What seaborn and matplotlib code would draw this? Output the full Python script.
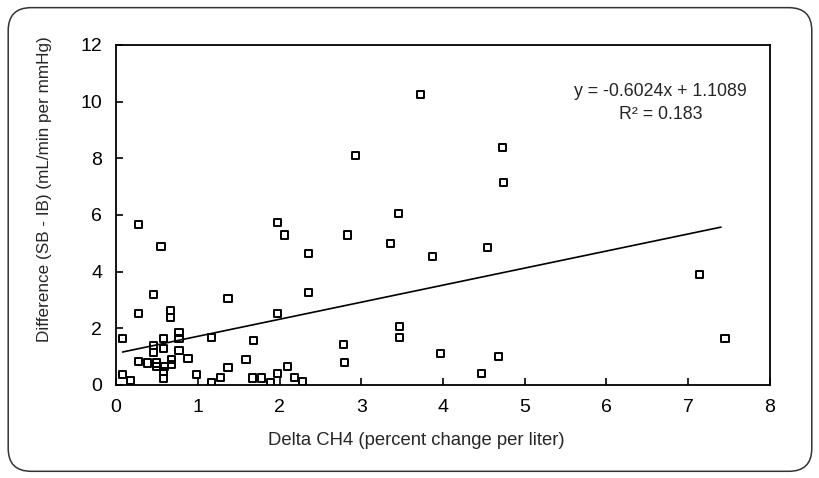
import matplotlib
matplotlib.use("Agg")
import matplotlib.pyplot as plt
from matplotlib.patches import FancyBboxPatch
import pandas as pd
import seaborn as sns

# values
delta_ch4 = [
    0.27, 0.55, 0.46, 0.27, 0.67, 0.67, 0.08, 0.46, 0.46, 0.58,
    0.58, 0.77, 0.77, 0.77, 0.88, 0.27, 0.38, 0.49, 0.49, 0.59,
    0.68, 0.68, 0.58, 0.58, 0.08, 0.18, 1.17, 0.99, 1.17, 1.28,
    1.37, 1.37, 1.68, 1.59, 1.67, 1.78, 1.89, 1.98, 1.97, 1.97,
    2.06, 2.83, 2.35, 3.36, 3.46, 3.87, 2.35, 2.78, 2.79, 3.47,
    3.47, 3.97, 2.10, 2.18, 2.28, 4.73, 4.74, 4.54, 4.68, 4.47,
    3.72, 2.93, 7.14, 7.45,
]
difference = [
    5.67, 4.88, 3.19, 2.52, 2.62, 2.39, 1.62, 1.38, 1.14, 1.62,
    1.28, 1.85, 1.63, 1.20, 0.94, 0.82, 0.77, 0.77, 0.65, 0.65,
    0.88, 0.71, 0.47, 0.21, 0.35, 0.15, 1.67, 0.35, 0.08, 0.27,
    3.04, 0.61, 1.58, 0.88, 0.24, 0.24, 0.08, 0.39, 5.73, 2.53,
    5.29, 5.29, 4.65, 4.98, 6.06, 4.53, 3.27, 1.41, 0.79, 2.05,
    1.66, 1.09, 0.65, 0.26, 0.12, 8.38, 7.15, 4.86, 0.99, 0.39,
    10.24, 8.09, 3.88, 1.62,
]

# trend line as printed on the chart
slope = 0.6024
intercept = 1.1089
line_x = [0.08, 7.4]

x_ticks = [0, 1, 2, 3, 4, 5, 6, 7, 8]
y_ticks = [0, 2, 4, 6, 8, 10, 12]

df = pd.DataFrame({"x": delta_ch4, "y": difference})
trend = pd.DataFrame({"x": line_x})
trend["y"] = slope * trend["x"] + intercept

sns.set_style("ticks")
plt.rcParams["font.family"] = ["Liberation Sans", "DejaVu Sans"]

fig = plt.figure(figsize=(8.2, 4.78), dpi=100)
ax = fig.add_axes([0.1415, 0.195, 0.7975, 0.711])

sns.lineplot(data=trend, x="x", y="y", color="black", linewidth=1.2, ax=ax)
sns.scatterplot(data=df, x="x", y="y", marker="s", s=26, facecolors="none",
                edgecolor="black", linewidth=1.4, ax=ax)

ax.set_xlim(0, 8)
ax.set_ylim(0, 12)
ax.set_xticks(x_ticks)
ax.set_yticks(y_ticks)
ax.tick_params(direction="in", length=5, width=1.2, labelsize=14, pad=10,
               colors="black")
for sp in ax.spines.values():
    sp.set_visible(True)
    sp.set_linewidth(1.3)
    sp.set_color("black")

ax.set_xlabel("Delta CH4 (percent change per liter)", fontsize=13.3)
ax.set_ylabel("Difference (SB - IB) (mL/min per mmHg)", fontsize=12.3)
ax.xaxis.set_label_coords(0.459, -0.14)
ax.yaxis.set_label_coords(-0.098, 0.575)

ax.text(0.833, 0.828, "y = -0.6024x + 1.1089\nR² = 0.183", transform=ax.transAxes,
        ha="center", va="center", fontsize=12.8, linespacing=1.45)

# rounded frame around the whole figure
frame = FancyBboxPatch((0.01, 0.014), 0.98, 0.97, boxstyle="round,pad=0,rounding_size=0.028",
                       transform=fig.transFigure, fill=False, edgecolor="#333333",
                       linewidth=1.1, mutation_aspect=820 / 478)
fig.patches.append(frame)

fig.savefig("out.png", dpi=100)
